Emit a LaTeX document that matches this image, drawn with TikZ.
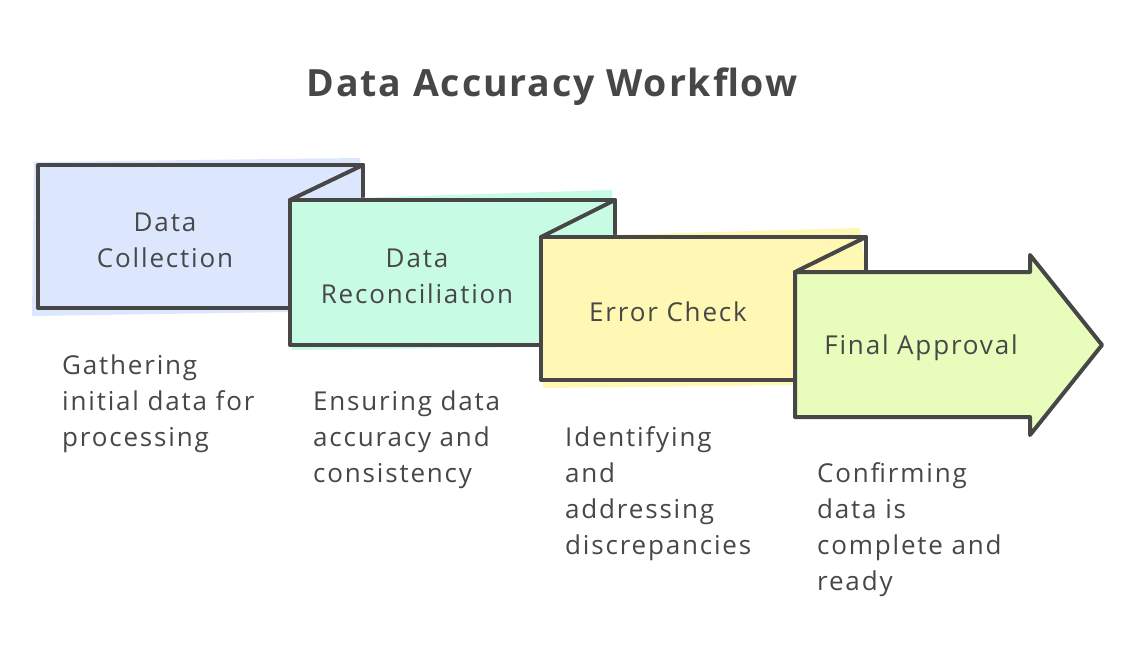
\documentclass[tikz,border=0pt]{standalone}
\usepackage{fontspec}
\setmainfont{Open Sans}
\newfontfamily\handfont[LetterSpace=7]{Open Sans}
\newfontfamily\titlefont[LetterSpace=5]{Open Sans}
\definecolor{ink}{HTML}{474747}
\definecolor{cblue}{HTML}{DCE7FD}
\definecolor{cmint}{HTML}{C8FBE3}
\definecolor{cyellow}{HTML}{FFF8B5}
\definecolor{clime}{HTML}{E8FCBC}
\tikzset{
  outline/.style={draw=ink, line width=4pt, line join=round, line cap=round},
  lbl/.style={text=ink, font=\handfont\fontsize{26}{36}\selectfont, align=center, inner sep=0pt},
  desc/.style={text=ink, font=\handfont\fontsize{26}{36}\selectfont, align=left, inner sep=0pt, anchor=north west},
}
\begin{document}
\begin{tikzpicture}[x=1pt,y=-1pt]
\useasboundingbox (0,0) rectangle (1141,672);
\fill[white] (0,0) rectangle (1141,672);
% title
\node[text=ink, font=\titlefont\fontsize{37.5}{40}\selectfont\bfseries, inner sep=0pt] (title) at (552,87) {Data Accuracy Workflow};
% box 1
\fill[cblue] (34,162) -- (360,158) -- (363,200) -- (290,200) -- (290,312) -- (32,316) -- cycle;
\draw[outline] (290,308) -- (38,308) -- (38,165) -- (363,165) -- (363,200);
\draw[outline] (363,165) -- (290,200);
% box 2
\fill[cmint] (290,200) -- (612,190) -- (615,237) -- (541,237) -- (541,347) -- (292,350) -- cycle;
\draw[outline] (541,345) -- (290,345) -- (290,200) -- (615,200) -- (615,237);
\draw[outline] (615,200) -- (541,237);
% box 3
\fill[cyellow] (541,237) -- (860,228) -- (866,272) -- (795,272) -- (795,385) -- (543,388) -- cycle;
\draw[outline] (795,380) -- (541,380) -- (541,237) -- (866,237) -- (866,272);
\draw[outline] (866,237) -- (795,272);
% box 4 (arrow)
\fill[clime] (795,272) -- (1030,272) -- (1030,255) -- (1102,345) -- (1030,435) -- (1030,417) -- (795,417) -- cycle;
\draw[outline] (795,272) -- (1030,272) -- (1030,255) -- (1102,345) -- (1030,435) -- (1030,417) -- (795,417) -- cycle;
% labels
\node[lbl] (l1) at (165,240) {Data\\Collection};
\node[lbl] (l2) at (417,276) {Data\\Reconciliation};
\node[lbl] (l3) at (668,312) {Error Check};
\node[lbl] (l4) at (921,348) {Final Approval};
% descriptions
\node[desc] (d1) at (62,355) {Gathering\\initial data for\\processing};
\node[desc] (d2) at (313,391) {Ensuring data\\accuracy and\\consistency};
\node[desc] (d3) at (565,426) {Identifying\\and\\addressing\\discrepancies};
\node[desc] (d4) at (817,462) {Confirming\\data is\\complete and\\ready};
\end{tikzpicture}
\end{document}
